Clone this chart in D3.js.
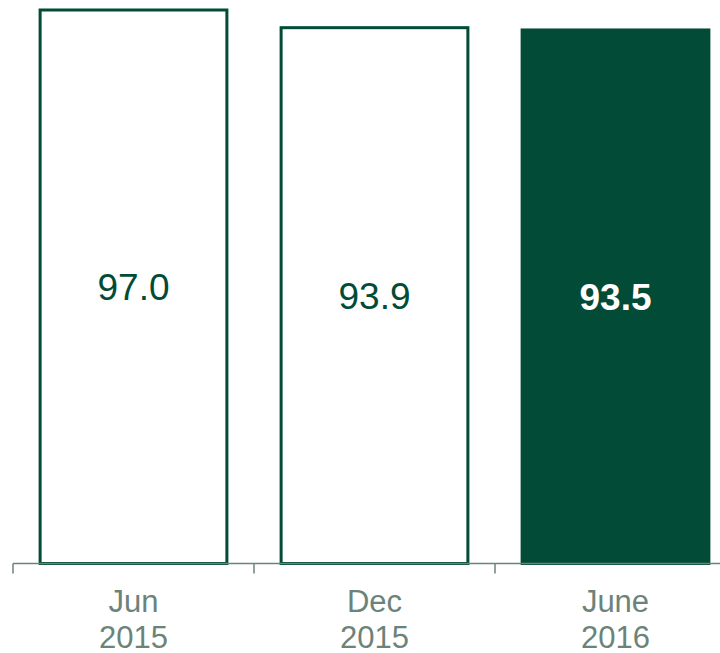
<!DOCTYPE html>
<html>
<head>
<meta charset="utf-8">
<script src="https://cdn.jsdelivr.net/npm/d3@7"></script>
<style>
  html, body { margin: 0; padding: 0; background: #ffffff; }
  svg { display: block; }
</style>
</head>
<body>
<svg id="chart" width="720" height="653"></svg>
<script>
// Period labels (two lines each) and values
const periodLine1 = ["Jun", "Dec", "June"];
const periodLine2 = ["2015", "2015", "2016"];
const values = [97.0, 93.9, 93.5];
const highlighted = [false, false, true];

const W = 720, H = 653;
const green = "#024b36";
const axisGrey = "#6c8379";
const svg = d3.select("#chart");

const keys = periodLine1.map((d, i) => i);

const x = d3.scaleBand()
  .domain(keys)
  .range([13, 13 + 241 * keys.length])
  .paddingInner(0.225)
  .paddingOuter(0.1125);

const y = d3.scaleLinear()
  .domain([0, d3.max(values)])
  .range([563.5, 10]);

// Bars
const g = svg.append("g");
g.selectAll("rect.bar")
  .data(values)
  .join("rect")
  .attr("class", "bar")
  .attr("x", (d, i) => x(i))
  .attr("width", x.bandwidth())
  .attr("y", d => y(d))
  .attr("height", d => y(0) - y(d))
  .attr("fill", (d, i) => highlighted[i] ? green : "#ffffff")
  .attr("stroke", green)
  .attr("stroke-width", 3);

// Value labels centred in each bar
g.selectAll("text.val")
  .data(values)
  .join("text")
  .attr("class", "val")
  .attr("x", (d, i) => x(i) + x.bandwidth() / 2)
  .attr("y", d => (y(d) + y(0)) / 2)
  .attr("dy", "0.36em")
  .attr("text-anchor", "middle")
  .attr("font-family", "Liberation Sans, Arial, sans-serif")
  .attr("font-size", 37)
  .attr("font-weight", (d, i) => highlighted[i] ? "bold" : "normal")
  .attr("fill", (d, i) => highlighted[i] ? "#ffffff" : green)
  .text(d => d.toFixed(1));

// Category axis with ticks at band boundaries
const axisY = 563.5;
svg.append("line")
  .attr("x1", 13).attr("x2", W)
  .attr("y1", axisY).attr("y2", axisY)
  .attr("stroke", axisGrey).attr("stroke-width", 1.5);

const step = x.step();
const tickXs = keys.map(i => x(i) - x.paddingOuter() * step);
svg.selectAll("line.tick")
  .data(tickXs)
  .join("line")
  .attr("class", "tick")
  .attr("x1", d => d).attr("x2", d => d)
  .attr("y1", axisY).attr("y2", axisY + 10)
  .attr("stroke", axisGrey).attr("stroke-width", 1.5);

const labels = svg.selectAll("text.cat")
  .data(keys)
  .join("text")
  .attr("class", "cat")
  .attr("text-anchor", "middle")
  .attr("font-family", "Liberation Sans, Arial, sans-serif")
  .attr("font-size", 31)
  .attr("fill", axisGrey);
labels.append("tspan")
  .attr("x", i => x(i) + x.bandwidth() / 2)
  .attr("y", 611.5)
  .text(i => periodLine1[i]);
labels.append("tspan")
  .attr("x", i => x(i) + x.bandwidth() / 2)
  .attr("y", 648)
  .text(i => periodLine2[i]);
</script>
</body>
</html>
